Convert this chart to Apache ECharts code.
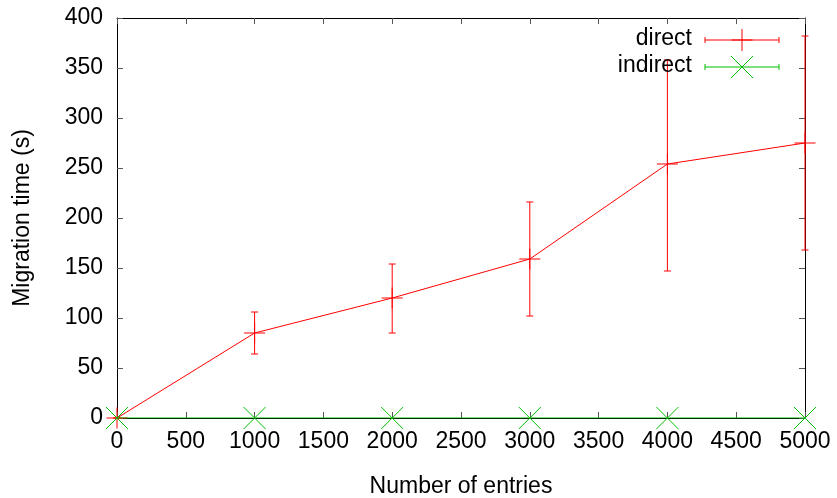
<!DOCTYPE html>
<html>
<head>
<meta charset="utf-8">
<script src="https://cdn.jsdelivr.net/npm/echarts@6/dist/echarts.min.js"></script>
<style>
  html, body { margin: 0; padding: 0; background: #fff; }
  #chart { width: 837px; height: 498px; }
</style>
</head>
<body>
<div id="chart"></div>
<script>
// ---- data ----
var entries = [0, 1000, 2000, 3000, 4000, 5000];
var directTime = [0, 85, 120, 159, 254, 275];
var directLow = [0, 64, 85, 102, 147, 168];
var directHigh = [0, 106, 154, 216, 358, 382];
var indirectTime = [0, 0, 0, 0, 0, 0];
var seriesNames = ['direct', 'indirect'];

var FONT = '"Liberation Sans", Arial, Helvetica, sans-serif';
var RED = '#ff0000';
var GREEN = '#00c000';

var chart = echarts.init(document.getElementById('chart'));

var directLine = entries.map(function (x, i) { return [x, directTime[i]]; });
var directErr = entries.map(function (x, i) { return [x, directTime[i], directLow[i], directHigh[i]]; });
var indirectLine = entries.map(function (x, i) { return [x, indirectTime[i]]; });

function seg(x1, y1, x2, y2, color) {
  return { type: 'line', shape: { x1: x1, y1: y1, x2: x2, y2: y2 },
           style: { stroke: color, lineWidth: 1 } };
}

function renderDirect(params, api) {
  var p = api.coord([api.value(0), api.value(1)]);
  var lo = api.coord([api.value(0), api.value(2)]);
  var hi = api.coord([api.value(0), api.value(3)]);
  var c = 3.5, m = 10.5;
  return { type: 'group', children: [
    seg(lo[0], lo[1], hi[0], hi[1], RED),
    seg(lo[0] - c, lo[1], lo[0] + c, lo[1], RED),
    seg(hi[0] - c, hi[1], hi[0] + c, hi[1], RED),
    seg(p[0] - m, p[1], p[0] + m, p[1], RED),
    seg(p[0], p[1] - m, p[0], p[1] + m, RED)
  ]};
}

function renderIndirect(params, api) {
  var p = api.coord([api.value(0), api.value(1)]);
  var m = 11;
  return { type: 'group', children: [
    seg(p[0] - m, p[1] - m, p[0] + m, p[1] + m, GREEN),
    seg(p[0] - m, p[1] + m, p[0] + m, p[1] - m, GREEN)
  ]};
}

var axisLine = { show: true, onZero: false, lineStyle: { color: '#000', width: 1 } };
var axisTick = { show: true, inside: true, length: 6, lineStyle: { color: '#555', width: 1 } };
var labelStyle = { color: '#000', fontFamily: FONT, fontSize: 23,
                   formatter: function (v) { return String(v); } };

var option = {
  animation: false,
  backgroundColor: '#fff',
  grid: { left: 117, right: 32, top: 18, bottom: 80, containLabel: false, outerBoundsMode: 'none' },
  xAxis: [
    { type: 'value', min: 0, max: 5000, interval: 500, position: 'bottom',
      axisLine: axisLine, axisTick: axisTick, splitLine: { show: false },
      axisLabel: Object.assign({ margin: 12 }, labelStyle),
      name: 'Number of entries', nameLocation: 'middle', nameGap: 57,
      nameTextStyle: { color: '#000', fontFamily: FONT, fontSize: 23 } },
    { type: 'value', min: 0, max: 5000, interval: 500, position: 'top',
      axisLine: axisLine, axisTick: axisTick, splitLine: { show: false },
      axisLabel: { show: false } }
  ],
  yAxis: [
    { type: 'value', min: 0, max: 400, interval: 50, position: 'left',
      axisLine: axisLine, axisTick: axisTick, splitLine: { show: false },
      axisLabel: Object.assign({ margin: 14 }, labelStyle),
      name: 'Migration time (s)', nameLocation: 'middle', nameGap: 83,
      nameTextStyle: { color: '#000', fontFamily: FONT, fontSize: 23 } },
    { type: 'value', min: 0, max: 400, interval: 50, position: 'right',
      axisLine: axisLine, axisTick: axisTick, splitLine: { show: false },
      axisLabel: { show: false } }
  ],
  series: [
    { name: seriesNames[0], type: 'line', data: directLine, symbol: 'none',
      lineStyle: { color: RED, width: 1 }, z: 2 },
    { name: seriesNames[0] + '-err', type: 'custom', data: directErr,
      renderItem: renderDirect, z: 3, clip: false },
    { name: seriesNames[1], type: 'line', data: indirectLine, symbol: 'none',
      lineStyle: { color: GREEN, width: 1.2 }, z: 4 },
    { name: seriesNames[1] + '-mk', type: 'custom', data: indirectLine,
      renderItem: renderIndirect, z: 5, clip: false }
  ],
  graphic: [
    { type: 'text', x: 692, y: 39, z: 10,
      style: { text: seriesNames[0], fill: '#000', font: '23px ' + FONT,
               textAlign: 'right', textVerticalAlign: 'middle' } },
    { type: 'text', x: 692, y: 66, z: 10,
      style: { text: seriesNames[1], fill: '#000', font: '23px ' + FONT,
               textAlign: 'right', textVerticalAlign: 'middle' } },
    // direct key sample
    { type: 'group', z: 10, children: [
      seg(705, 40, 779, 40, RED),
      seg(705, 37, 705, 43, RED),
      seg(779, 37, 779, 43, RED),
      seg(742, 29, 742, 51, RED),
      seg(731.5, 40, 752.5, 40, RED)
    ]},
    // indirect key sample
    { type: 'group', z: 10, children: [
      seg(705, 67, 779, 67, GREEN),
      seg(705, 64, 705, 70, GREEN),
      seg(779, 64, 779, 70, GREEN),
      seg(731, 56, 753, 78, GREEN),
      seg(731, 78, 753, 56, GREEN)
    ]}
  ]
};

chart.setOption(option);
</script>
</body>
</html>
